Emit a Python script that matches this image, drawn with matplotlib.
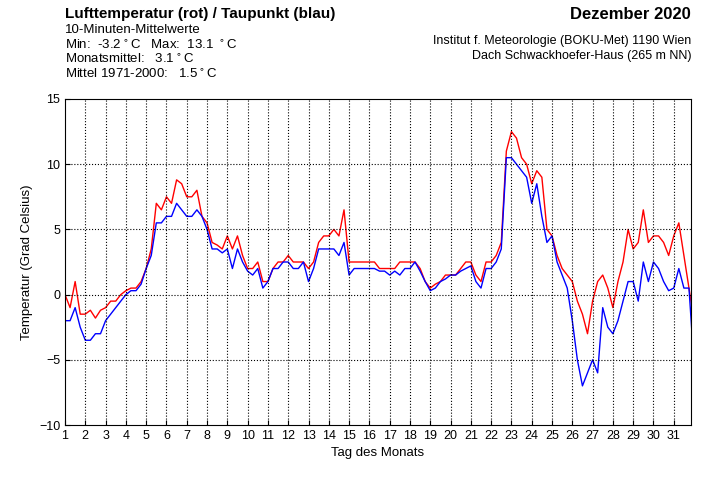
import numpy as np
import matplotlib.pyplot as plt

plt.rcParams["font.family"] = ["Liberation Sans", "DejaVu Sans"]

days = np.arange(1.0, 31.76, 0.25).tolist() + [31.9]

temp = [0, -1, 1, -1.5, -1.5, -1.2, -1.8, -1.2, -1, -0.5, -0.5, 0, 0.3, 0.5, 0.5, 1,
        2, 3.5, 7, 6.5, 7.5, 7, 8.8, 8.5, 7.5, 7.5, 8, 6, 5.5, 4, 3.8, 3.5,
        4.5, 3.5, 4.5, 3, 2, 2, 2.5, 1, 1, 2, 2.5, 2.5, 3, 2.5, 2.5, 2.5,
        2, 2.5, 4, 4.5, 4.5, 5, 4.5, 6.5, 2.5, 2.5, 2.5, 2.5, 2.5, 2.5, 2, 2,
        2, 2, 2.5, 2.5, 2.5, 2.5, 2, 1, 0.5, 0.8, 1, 1.5, 1.5, 1.5, 2, 2.5,
        2.5, 1.5, 1, 2.5, 2.5, 3, 4, 11, 12.5, 12, 10.5, 10, 8.5, 9.5, 9, 5,
        4.5, 3, 2, 1.5, 1, -0.5, -1.5, -3, -0.5, 1, 1.5, 0.5, -1, 1, 2.5, 5,
        3.5, 4, 6.5, 4, 4.5, 4.5, 4, 3, 4.5, 5.5, 3, 0.5, -1]

dew = [-2, -2, -1, -2.5, -3.5, -3.5, -3, -3, -2, -1.5, -1, -0.5, 0, 0.3, 0.3, 0.8,
       2, 3, 5.5, 5.5, 6, 6, 7, 6.5, 6, 6, 6.5, 6, 5, 3.5, 3.5, 3.2,
       3.5, 2, 3.5, 2.5, 1.8, 1.5, 2, 0.5, 1, 2, 2, 2.5, 2.5, 2, 2, 2.5,
       1, 2, 3.5, 3.5, 3.5, 3.5, 3, 4, 1.5, 2, 2, 2, 2, 2, 1.8, 1.8,
       1.5, 1.8, 1.5, 2, 2, 2.5, 1.8, 1, 0.3, 0.5, 1, 1.2, 1.5, 1.5, 1.8, 2,
       2.2, 1, 0.5, 2, 2, 2.5, 3.5, 10.5, 10.5, 10, 9.5, 9, 7, 8.5, 6, 4,
       4.5, 2.5, 1.5, 0.5, -2, -5, -7, -6, -5, -6, -1, -2.5, -3, -2, -0.5, 1,
       1, -0.5, 2.5, 1, 2.5, 2, 1, 0.3, 0.5, 2, 0.5, 0.5, -3]

fig = plt.figure(figsize=(7.02, 4.78), dpi=100)
ax = fig.add_axes([65 / 702, 1 - 425 / 478, 626 / 702, 326 / 478])
ax.plot(days, temp, color="red", lw=1)
ax.plot(days, dew, color="blue", lw=1)
ax.set_xlim(1, 31.85)
ax.set_ylim(-10, 15)
ax.set_xticks(range(1, 32))
ax.set_yticks(range(-10, 16, 5))
ax.tick_params(labelsize=9, direction="in")
for d in range(2, 32):
    ax.axvline(d, color="black", ls=":", lw=0.8)
for v in (-5, 0, 5, 10):
    ax.axhline(v, color="black", ls=":", lw=0.8)
ax.set_xlabel("Tag des Monats", fontsize=9.5)
ax.set_ylabel("Temperatur (Grad Celsius)", fontsize=9.5)

fig.text(65 / 702, 1 - 7 / 478, "Lufttemperatur (rot) / Taupunkt (blau)", fontsize=11,
         fontweight="bold", va="top")
lines = ["10-Minuten-Mittelwerte",
         "Min:  -3.2$^\\circ$C   Max:  13.1 $^\\circ$C",
         "Monatsmittel:   3.1$^\\circ$C",
         "Mittel 1971-2000:   1.5$^\\circ$C"]
for i, s in enumerate(lines):
    fig.text(65 / 702, 1 - (24 + 14.5 * i) / 478, s, fontsize=9.5, va="top")
fig.text(691 / 702, 1 - 7 / 478, "Dezember 2020", fontsize=12, fontweight="bold",
         va="top", ha="right")
fig.text(691 / 702, 1 - 35 / 478, "Institut f. Meteorologie (BOKU-Met) 1190 Wien",
         fontsize=9, va="top", ha="right")
fig.text(691 / 702, 1 - 50 / 478, "Dach Schwackhoefer-Haus (265 m NN)",
         fontsize=9, va="top", ha="right")

fig.savefig("out.png", dpi=100)
